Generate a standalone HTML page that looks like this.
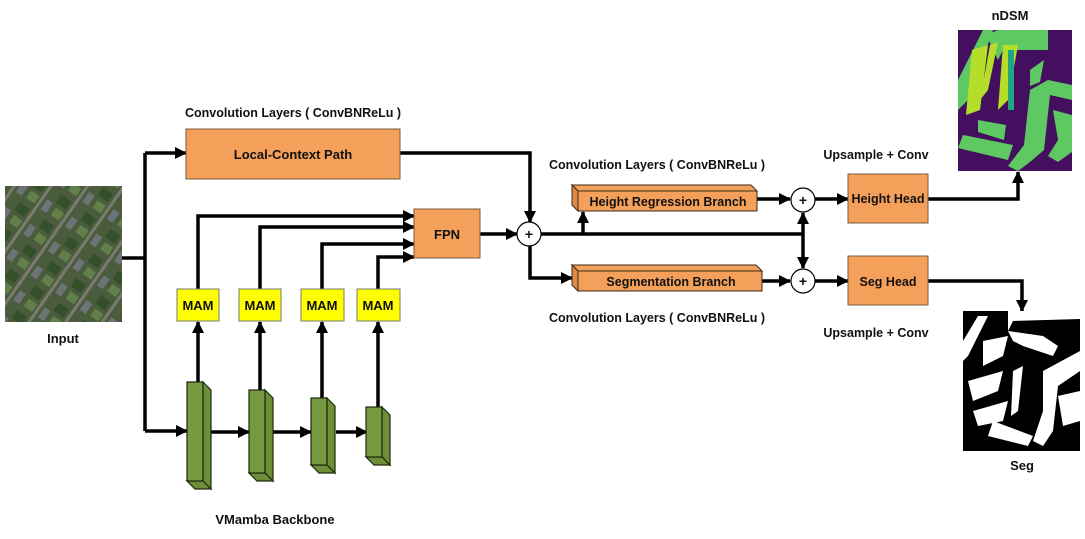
<!DOCTYPE html>
<html><head><style>
html,body{margin:0;padding:0;background:#fff;}
svg{display:block;}
text{font-family:"Liberation Sans",sans-serif;font-weight:bold;fill:#111;}
</style></head><body>
<svg width="1085" height="539" viewBox="0 0 1085 539" xmlns="http://www.w3.org/2000/svg">
<defs>
<marker id="b" markerWidth="12" markerHeight="12" refX="11" refY="6" orient="auto" markerUnits="userSpaceOnUse">
<path d="M0,0 L12,6 L0,12 z" fill="#000"/></marker>
<pattern id="aer" width="30" height="30" patternUnits="userSpaceOnUse" patternTransform="rotate(-55)">
<rect width="30" height="30" fill="#4b5c3c"/>
<rect x="2" y="3" width="12" height="7" fill="#6c7478"/>
<rect x="16" y="12" width="10" height="12" fill="#34502a"/>
<rect x="3" y="15" width="9" height="10" fill="#62804a"/>
<rect x="0" y="27" width="30" height="3" fill="#7a7a70"/>
</pattern>
</defs>

<rect x="5" y="186" width="117" height="136" fill="url(#aer)"/>
<text x="63" y="343" font-size="13" text-anchor="middle">Input</text>

<g stroke="#000" stroke-width="3.5" fill="none">
<polyline points="122,258 145,258"/>
<polyline points="145,153 145,431"/>
<line x1="145" y1="153" x2="186" y2="153" marker-end="url(#b)"/>
<line x1="145" y1="431" x2="187" y2="431" marker-end="url(#b)"/>
<polyline points="400,153 530,153 530,222" marker-end="url(#b)"/>
<polyline points="198,289 198,216 414,216" marker-end="url(#b)"/>
<polyline points="260,289 260,227 414,227" marker-end="url(#b)"/>
<polyline points="322,289 322,244 414,244" marker-end="url(#b)"/>
<polyline points="378,289 378,257 414,257" marker-end="url(#b)"/>
<line x1="198" y1="382" x2="198" y2="322" marker-end="url(#b)"/>
<line x1="260" y1="390" x2="260" y2="322" marker-end="url(#b)"/>
<line x1="322" y1="398" x2="322" y2="322" marker-end="url(#b)"/>
<line x1="378" y1="407" x2="378" y2="322" marker-end="url(#b)"/>
<line x1="211" y1="432" x2="249" y2="432" marker-end="url(#b)"/>
<line x1="273" y1="432" x2="311" y2="432" marker-end="url(#b)"/>
<line x1="336" y1="432" x2="367" y2="432" marker-end="url(#b)"/>
<line x1="480" y1="234" x2="517" y2="234" marker-end="url(#b)"/>
<polyline points="541,234 803,234"/>
<line x1="583" y1="234" x2="583" y2="212" marker-end="url(#b)"/>
<line x1="803" y1="234" x2="803" y2="213" marker-end="url(#b)"/>
<line x1="803" y1="234" x2="803" y2="268" marker-end="url(#b)"/>
<polyline points="530,246 530,278 572,278" marker-end="url(#b)"/>
<line x1="757" y1="199" x2="790" y2="199" marker-end="url(#b)"/>
<line x1="762" y1="281" x2="790" y2="281" marker-end="url(#b)"/>
<line x1="815" y1="199" x2="848" y2="199" marker-end="url(#b)"/>
<line x1="815" y1="281" x2="848" y2="281" marker-end="url(#b)"/>
<polyline points="928,199 1018,199 1018,172" marker-end="url(#b)"/>
<polyline points="928,281 1022,281 1022,311" marker-end="url(#b)"/>
</g>

<text x="293" y="117" font-size="12.5" text-anchor="middle">Convolution Layers ( ConvBNReLu )</text>
<rect x="186" y="129" width="214" height="50" fill="#f4a05a" stroke="#7a5a40" stroke-width="1"/>
<text x="293" y="159" font-size="13" text-anchor="middle">Local-Context Path</text>

<rect x="414" y="209" width="66" height="49" fill="#f4a05a" stroke="#7a5a40" stroke-width="1"/>
<text x="447" y="239" font-size="13" text-anchor="middle">FPN</text>

<g font-size="13">
<rect x="177" y="289" width="42" height="32" fill="#ffff00" stroke="#777"/>
<text x="198" y="310" text-anchor="middle">MAM</text>
<rect x="239" y="289" width="42" height="32" fill="#ffff00" stroke="#777"/>
<text x="260" y="310" text-anchor="middle">MAM</text>
<rect x="301" y="289" width="43" height="32" fill="#ffff00" stroke="#777"/>
<text x="322" y="310" text-anchor="middle">MAM</text>
<rect x="357" y="289" width="43" height="32" fill="#ffff00" stroke="#777"/>
<text x="378" y="310" text-anchor="middle">MAM</text>
</g>

<g stroke="#1a2a0a" stroke-width="1.2">
<polygon points="203,382 211,390 211,489 203,481" fill="#6e8f3a"/>
<polygon points="187,481 203,481 211,489 195,489" fill="#6e8f3a"/>
<rect x="187" y="382" width="16" height="99" fill="#77993f"/>
<polygon points="265,390 273,398 273,481 265,473" fill="#6e8f3a"/>
<polygon points="249,473 265,473 273,481 257,481" fill="#6e8f3a"/>
<rect x="249" y="390" width="16" height="83" fill="#77993f"/>
<polygon points="327,398 335,406 335,473 327,465" fill="#6e8f3a"/>
<polygon points="311,465 327,465 335,473 319,473" fill="#6e8f3a"/>
<rect x="311" y="398" width="16" height="67" fill="#77993f"/>
<polygon points="382,407 390,415 390,465 382,457" fill="#6e8f3a"/>
<polygon points="366,457 382,457 390,465 374,465" fill="#6e8f3a"/>
<rect x="366" y="407" width="16" height="50" fill="#77993f"/>
</g>
<text x="275" y="524" font-size="13" text-anchor="middle">VMamba Backbone</text>

<g stroke="#000" stroke-width="1.2" fill="#fff">
<circle cx="529" cy="234" r="12"/>
<circle cx="803" cy="200" r="12"/>
<circle cx="803" cy="281" r="12"/>
</g>
<g font-size="14" text-anchor="middle">
<text x="529" y="239">+</text><text x="803" y="205">+</text><text x="803" y="286">+</text>
</g>

<text x="657" y="169" font-size="12.5" text-anchor="middle">Convolution Layers ( ConvBNReLu )</text>
<g stroke="#3a2a1a" stroke-width="1">
<polygon points="572,185 751,185 757,191 578,191" fill="#f4a05a"/>
<polygon points="572,185 578,191 578,211 572,205" fill="#e08a45"/>
<rect x="578" y="191" width="179" height="20" fill="#f4a05a"/>
<polygon points="572,265 756,265 762,271 578,271" fill="#f4a05a"/>
<polygon points="572,265 578,271 578,291 572,285" fill="#e08a45"/>
<rect x="578" y="271" width="184" height="20" fill="#f4a05a"/>
</g>
<text x="668" y="206" font-size="12.5" text-anchor="middle">Height Regression Branch</text>
<text x="671" y="286" font-size="12.5" text-anchor="middle">Segmentation Branch</text>
<text x="657" y="322" font-size="12.5" text-anchor="middle">Convolution Layers ( ConvBNReLu )</text>

<text x="876" y="159" font-size="12.5" text-anchor="middle">Upsample + Conv</text>
<rect x="848" y="174" width="80" height="49" fill="#f4a05a" stroke="#7a5a40"/>
<text x="888" y="203" font-size="12.5" text-anchor="middle">Height Head</text>
<rect x="848" y="256" width="80" height="49" fill="#f4a05a" stroke="#7a5a40"/>
<text x="888" y="286" font-size="12.5" text-anchor="middle">Seg Head</text>
<text x="876" y="337" font-size="12.5" text-anchor="middle">Upsample + Conv</text>

<text x="1010" y="20" font-size="13" text-anchor="middle">nDSM</text>
<svg x="958" y="30" width="114" height="141" viewBox="0 0 114 141">
<rect width="114" height="141" fill="#440f5e"/>
<g fill="#5ec962">
<polygon points="0,50 25,0 35,0 10,70 0,80"/>
<polygon points="28,5 40,0 90,0 90,20 45,20 40,30"/>
<polygon points="5,105 55,115 50,130 0,118"/>
<polygon points="72,60 90,50 114,55 114,70 92,65 86,120 72,132 60,141 50,136 66,115"/>
<polygon points="95,80 114,85 114,122 100,132 90,126 100,110"/>
<polygon points="72,40 86,30 82,52 72,56"/>
<polygon points="20,90 48,95 46,110 20,102"/>
</g>
<g fill="#b5de2b">
<polygon points="14,20 30,15 22,80 8,85"/>
<polygon points="32,15 40,12 30,60 22,70"/>
<polygon points="45,15 60,15 50,70 40,80"/>
</g>
<rect x="50" y="20" width="6" height="60" fill="#21a585"/>
</svg>

<svg x="963" y="311" width="117" height="140" viewBox="0 0 117 140">
<rect width="117" height="140" fill="#000"/>
<g fill="#fff">
<polygon points="0,30 15,5 25,5 5,45 0,50"/>
<polygon points="45,0 117,0 117,8 50,10 45,20"/>
<polygon points="45,20 80,25 95,35 90,45 60,35 50,30"/>
<polygon points="20,30 45,25 40,45 20,55"/>
<polygon points="5,70 40,60 35,80 10,90"/>
<polygon points="10,100 45,90 40,110 15,115"/>
<polygon points="30,110 70,125 65,135 25,125"/>
<polygon points="80,60 117,40 117,60 95,75 90,120 80,135 70,130 80,100"/>
<polygon points="95,85 117,80 117,110 100,115"/>
<polygon points="50,60 60,55 55,100 48,105"/>
</g>
</svg>
<text x="1022" y="470" font-size="13" text-anchor="middle">Seg</text>
</svg>
</body></html>
